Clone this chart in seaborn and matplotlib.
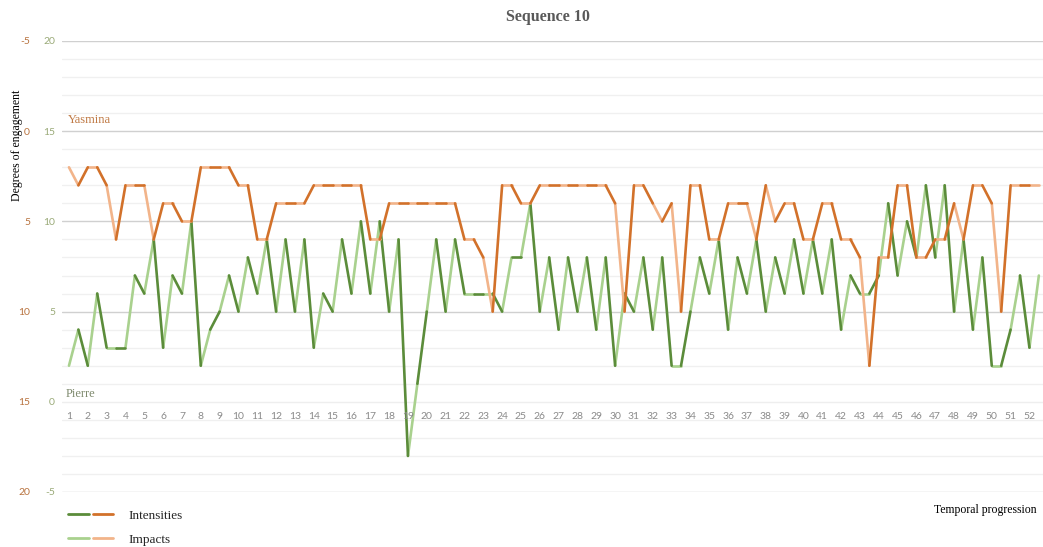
import numpy as np
import pandas as pd
import seaborn as sns
import matplotlib.pyplot as plt
from matplotlib.lines import Line2D
from matplotlib.legend_handler import HandlerTuple

# time steps 1..52, two readings per step (intensity then impact)
steps = list(range(1, 53))
positions = np.arange(1, 53, 0.5)

# Pierre, on the left (green) scale
pierre = [2, 4, 2, 6, 3, 3, 3, 7, 6, 9, 3, 7, 6, 10, 2, 4, 5, 7, 5, 8,
          6, 9, 5, 9, 5, 9, 3, 6, 5, 9, 6, 10, 6, 10, 5, 9, -3, 1, 5, 9,
          5, 9, 6, 6, 6, 6, 5, 8, 8, 11, 5, 8, 4, 8, 5, 8, 4, 8, 2, 6,
          5, 8, 4, 8, 2, 2, 5, 8, 6, 9, 4, 8, 6, 9, 5, 8, 6, 9, 6, 9,
          6, 9, 4, 7, 6, 6, 7, 11, 7, 10, 8, 12, 8, 12, 5, 9, 4, 8, 2, 2,
          4, 7, 3, 7]

# Yasmina, on the inverted (orange) scale
yasmina = [2, 3, 2, 2, 3, 6, 3, 3, 3, 6, 4, 4, 5, 5, 2, 2, 2, 2, 3, 3,
           6, 6, 4, 4, 4, 4, 3, 3, 3, 3, 3, 3, 6, 6, 4, 4, 4, 4, 4, 4,
           4, 4, 6, 6, 7, 10, 3, 3, 4, 4, 3, 3, 3, 3, 3, 3, 3, 3, 4, 10,
           3, 3, 4, 5, 4, 10, 3, 3, 6, 6, 4, 4, 4, 6, 3, 5, 4, 4, 6, 6,
           4, 4, 6, 6, 7, 13, 7, 7, 3, 3, 7, 7, 6, 6, 4, 6, 3, 3, 4, 10,
           3, 3, 3, 3]

ticks = [-5, 0, 5, 10, 15, 20]

green_dark, green_light = '#5b8c3a', '#a9d18e'
orange_dark, orange_light = '#d2712a', '#f2b48a'


def segments(values):
    rows = []
    for j in range(len(values) - 1):
        kind = 'Intensities' if j % 2 else 'Impacts'
        for i in (j, j + 1):
            rows.append({'t': positions[i], 'v': values[i], 'seg': j, 'kind': kind})
    return pd.DataFrame(rows)


sns.set_style('white')
plt.rcParams['font.family'] = ['Liberation Serif', 'DejaVu Serif']
plt.rcParams['axes.unicode_minus'] = False

fig = plt.figure(figsize=(10.43, 5.47), dpi=100)
ax = fig.add_axes([62 / 1043, 1 - 492 / 547, 981 / 1043, 451 / 547])

ax.set_ylim(-5, 20)
ax.set_yticks(ticks)
ax.set_yticks(range(-5, 21), minor=True)
ax.yaxis.grid(True, which='minor', color='#f0f0f0', lw=1)
ax.yaxis.grid(True, which='major', color='#d0d0d0', lw=1)
ax.get_ygridlines()[1].set_color('#eeeeee')
ax.set_axisbelow(True)
ax.set_xticks([])
ax.tick_params(axis='y', which='both', length=0)
ax.tick_params(axis='y', pad=5, labelcolor='#9aaa78', labelsize=7.5)
for lab in ax.get_yticklabels():
    lab.set_family('Lato')

sns.lineplot(data=segments(pierre), x='t', y='v', hue='kind', units='seg',
             estimator=None, sort=False, legend=False, linewidth=1.9,
             palette={'Intensities': green_dark, 'Impacts': green_light}, ax=ax)

ax2 = ax.twinx()
sns.lineplot(data=segments(yasmina), x='t', y='v', hue='kind', units='seg',
             estimator=None, sort=False, legend=False, linewidth=1.9,
             palette={'Intensities': orange_dark, 'Impacts': orange_light}, ax=ax2)
ax2.set_ylim(20, -5)
ax2.set_yticks(ticks)
ax2.yaxis.tick_left()
ax2.tick_params(axis='y', which='both', length=0)
ax2.tick_params(axis='y', pad=23, labelcolor='#b8733f', labelsize=7.5)
for lab in ax2.get_yticklabels():
    lab.set_family('Lato')
ax2.grid(False)

for a in (ax, ax2):
    a.set_xlim(0.63, 52.72)
    a.set_xlabel('')
    a.set_ylabel('')
    for s in a.spines.values():
        s.set_visible(False)

for k in steps:
    ax.text(k, -0.8, str(k), ha='center', va='center', fontsize=7.5,
            color='#8a8a8a', family='Lato')

ax.text(0.95, 15.6, 'Yasmina', ha='left', va='center', fontsize=9, color='#c07a45')
ax.text(0.84, 0.45, 'Pierre', ha='left', va='center', fontsize=9, color='#7f8a6e')

fig.text(548 / 1043, 1 - 17 / 547, 'Sequence 10', ha='center', va='center',
         fontsize=11.5, fontweight='bold', color='#595959')
fig.text(17 / 1043, 1 - 145 / 547, 'Degrees of engagement', rotation=90,
         ha='center', va='center', fontsize=8.5, color='black')
fig.text(1037 / 1043, 1 - 510 / 547, 'Temporal progression', ha='right',
         va='center', fontsize=8.5, color='black')

handles = [(Line2D([], [], color=green_dark, lw=2), Line2D([], [], color=orange_dark, lw=2)),
           (Line2D([], [], color=green_light, lw=2), Line2D([], [], color=orange_light, lw=2))]
fig.legend(handles, ['Intensities', 'Impacts'], loc='upper left',
           bbox_to_anchor=(63 / 1043, 1 - 504 / 547), frameon=False,
           handler_map={tuple: HandlerTuple(ndivide=None, pad=0.3)},
           handlelength=3.4, handletextpad=1.2, labelspacing=0.9, fontsize=9.5,
           borderaxespad=0)

fig.savefig('out.png', dpi=100)
